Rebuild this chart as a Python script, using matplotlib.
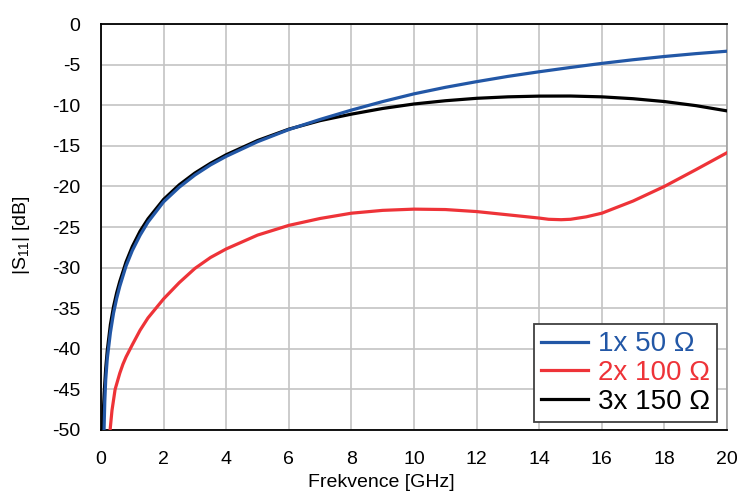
import matplotlib.pyplot as plt

plt.rcParams['font.family'] = ['Liberation Sans', 'DejaVu Sans']
plt.rcParams['mathtext.default'] = 'regular'
plt.rcParams['axes.unicode_minus'] = False

# |S11| curves (GHz, dB)
freq_50 = [0.08, 0.1, 0.12, 0.15, 0.2, 0.3, 0.4, 0.5, 0.6, 0.8, 1.0, 1.25, 1.5, 2.0, 2.5, 3.0, 3.5,
           4.0, 5.0, 6.0, 7.0, 8.0, 9.0, 10, 11, 12, 13, 14, 15, 16, 17, 18, 19, 20]
s11_50 = [-53.0, -49.5, -46.5, -43.8, -41.2, -38.0, -35.6, -33.8, -32.3, -29.8, -27.9, -26.0, -24.4,
          -21.9, -20.1, -18.6, -17.35, -16.3, -14.5, -13.0, -11.75, -10.6, -9.55, -8.6, -7.8, -7.1,
          -6.45, -5.88, -5.35, -4.85, -4.4, -4.0, -3.65, -3.35]

freq_150 = [0.04, 0.05, 0.07, 0.1, 0.15, 0.2, 0.3, 0.4, 0.5, 0.6, 0.8, 1.0, 1.25, 1.5, 2.0, 2.5, 3.0,
            3.5, 4.0, 5.0, 6.0, 7.0, 8.0, 9.0, 10, 11, 12, 13, 14, 15, 16, 17, 18, 19, 20]
s11_150 = [-53.0, -50.0, -48.0, -45.5, -42.4, -40.2, -37.0, -34.8, -33.1, -31.7, -29.3, -27.4, -25.5,
           -24.0, -21.6, -19.8, -18.35, -17.15, -16.1, -14.35, -12.95, -11.9, -11.1, -10.4, -9.85,
           -9.45, -9.15, -8.97, -8.88, -8.87, -8.97, -9.2, -9.55, -10.05, -10.7]

freq_100 = [0.25, 0.29, 0.35, 0.45, 0.6, 0.7, 0.8, 1.0, 1.25, 1.5, 2.0, 2.5, 3.0, 3.5, 4.0, 5.0, 6.0,
            7.0, 8.0, 9.0, 10, 11, 12, 13, 14, 14.3, 14.7, 15.0, 15.5, 16, 17, 18, 19, 20]
s11_100 = [-52.0, -50.0, -47.6, -45.0, -43.0, -41.9, -41.0, -39.5, -37.7, -36.2, -33.85, -31.85,
           -30.1, -28.75, -27.7, -26.0, -24.8, -23.95, -23.3, -22.95, -22.8, -22.85, -23.1, -23.5,
           -23.9, -24.05, -24.1, -24.05, -23.75, -23.3, -21.8, -20.0, -17.95, -15.85]

xticks = list(range(0, 21, 2))
yticks = list(range(-50, 1, 5))

fig = plt.figure(figsize=(7.39, 4.93), dpi=100)
ax = fig.add_axes([0.1367, 0.1278, 0.8471, 0.8235])

ax.plot(freq_50, s11_50, color='#2257a6', lw=2.3, label='1x 50 Ω', zorder=3)
ax.plot(freq_100, s11_100, color='#ee3338', lw=2.3, label='2x 100 Ω', zorder=3)
ax.plot(freq_150, s11_150, color='black', lw=2.3, label='3x 150 Ω', zorder=2.9)

ax.set_xlim(0, 20)
ax.set_ylim(-50, 0)
ax.set_xticks(xticks)
ax.set_yticks(yticks)
ax.tick_params(length=0, labelsize=14, pad=15)
ax.grid(True, color='#c4c4c4', lw=1.2)
ax.set_axisbelow(True)

for side in ['left', 'bottom', 'top']:
    ax.spines[side].set_color('black')
    ax.spines[side].set_linewidth(1.3)
ax.spines['right'].set_color('#a0a0a0')
ax.spines['right'].set_linewidth(1.2)

ax.set_xlabel('Frekvence [GHz]', fontsize=14)
ax.xaxis.set_label_coords(0.447, -0.108)
ax.set_ylabel('|S$_{11}$| [dB]', fontsize=14)
ax.yaxis.set_label_coords(-0.11, 0.48)

leg = ax.legend(loc='lower right', bbox_to_anchor=(0.984, 0.02), borderaxespad=0,
                fontsize=20, labelcolor='linecolor', fancybox=False, framealpha=1,
                edgecolor='#404040', handlelength=1.7, handletextpad=0.36,
                labelspacing=0.1, borderpad=0.25)
leg.get_frame().set_linewidth(1.3)

plt.savefig('out.png', dpi=100)
